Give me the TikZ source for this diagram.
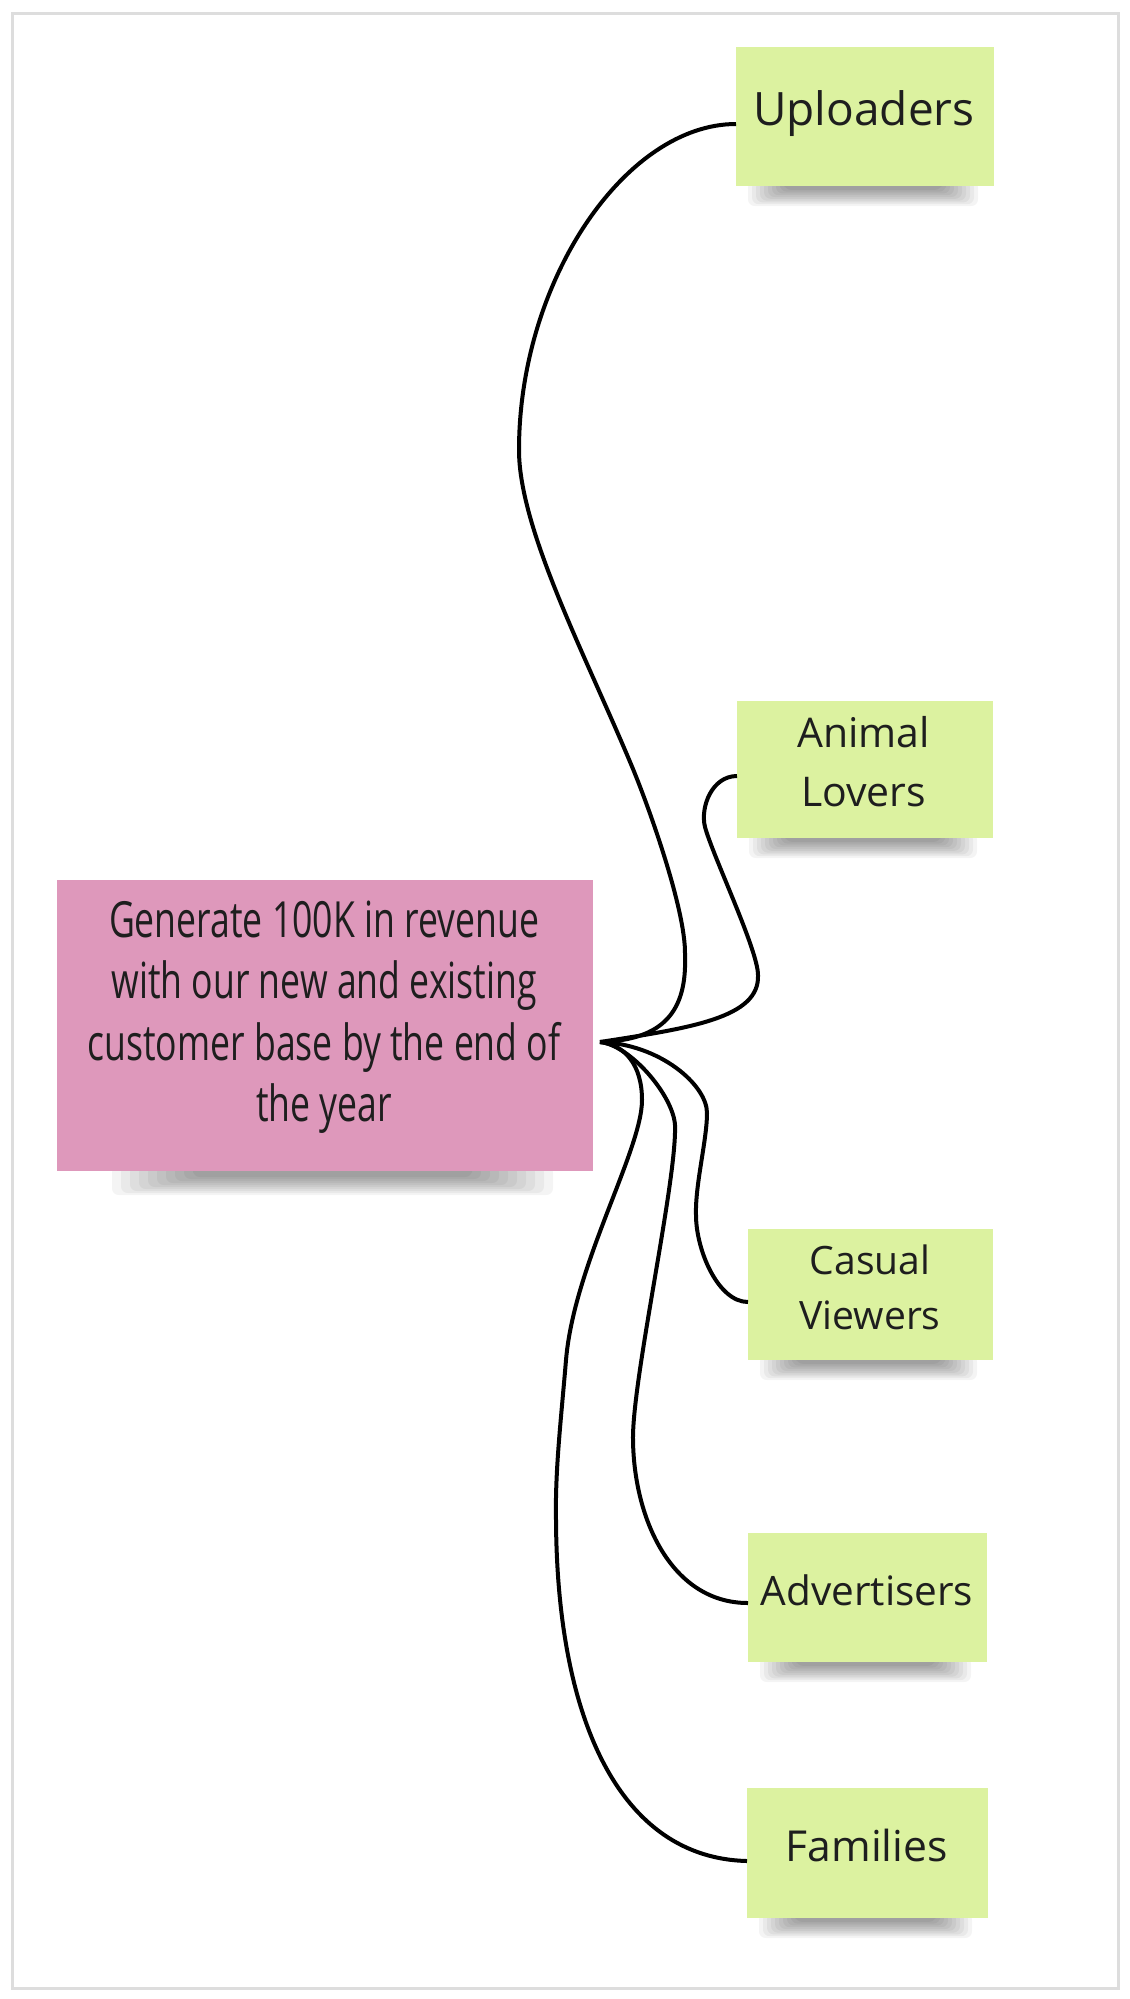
\documentclass[tikz,border=0pt]{standalone}
\usepackage{fontspec}
\usepackage{graphicx}
\usetikzlibrary{calc}
\newfontfamily\notefont{Open Sans}
\definecolor{notegreen}{HTML}{DCF2A0}
\definecolor{notepink}{HTML}{DE98BB}
\definecolor{framegray}{HTML}{DDDDDD}
\definecolor{inkc}{HTML}{1E1E1E}
\pgfdeclarelayer{background}
\pgfsetlayers{background,main}
\tikzset{
  note/.style={rectangle, fill=notegreen, inner sep=0pt, outer sep=0pt},
  goalnote/.style={rectangle, fill=notepink, inner sep=0pt, outer sep=0pt},
  notetext/.style={inner sep=0pt, outer sep=0pt, text=inkc, align=center},
  link/.style={line width=3pt, black, line join=round},
  shade/.style={black, opacity=0.042, rounded corners=5pt},
}
\begin{document}
\begin{tikzpicture}[x=0.75pt,y=-0.75pt]
\useasboundingbox (0,0) rectangle (1129,1999);
\begin{pgfonlayer}{background}
\fill[white] (0,0) rectangle (1129,1999);
\draw[framegray, line width=2.25pt] (12,13) rectangle (1118,1988);
\end{pgfonlayer}

% notes
\node[goalnote, minimum width=402pt, minimum height=218.25pt] (goal) at (325,1025.5) {};
\node[note, minimum width=193.5pt, minimum height=104.25pt] (up) at (865,116.5) {};
\node[note, minimum width=192pt, minimum height=102.75pt] (an) at (865,769.5) {};
\node[note, minimum width=183.75pt, minimum height=98.25pt] (ca) at (870.5,1294.5) {};
\node[note, minimum width=179.25pt, minimum height=96.75pt] (ad) at (867.5,1597.5) {};
\node[note, minimum width=180.75pt, minimum height=97.5pt] (fa) at (867.5,1853) {};

% texts
\node[notetext, font=\notefont\fontsize{26.7}{32.9}\selectfont] (goalt) at (324,1017)
  {\scalebox{1}[1.4]{\begin{tabular}{@{}c@{}}Generate 100K in revenue\\ with our new and existing\\ customer base by the end of\\ the year\end{tabular}}};
\node[notetext, anchor=base, font=\notefont\fontsize{34.5}{40}\selectfont] (upt) at (864,125) {Uploaders};
\node[notetext, font=\notefont\fontsize{30.7}{44.25}\selectfont] (ant) at (863.5,762) {Animal\\Lovers};
\node[notetext, font=\notefont\fontsize{29.3}{41.25}\selectfont] (cat) at (870,1287.7) {Casual\\Viewers};
\node[notetext, anchor=base, font=\notefont\fontsize{30.4}{40}\selectfont] (adt) at (867,1605) {Advertisers};
\node[notetext, anchor=base, font=\notefont\fontsize{32}{40}\selectfont] (fat) at (866.7,1861.7) {Families};

% shadows
\begin{pgfonlayer}{background}
\foreach \n in {up,an,ca,ad,fa} {
  \foreach \k in {0,...,9} {
    \fill[shade] ($(\n.south west)+(12+4*\k,-5)$) rectangle ($(\n.south east)+(-16-4*\k,20-1.8*\k)$);
  }
}
\foreach \k in {0,...,9} {
  \fill[shade] ($(goal.south west)+(55+9*\k,-5)$) rectangle ($(goal.south east)+(-40-9*\k,24-2*\k)$);
}
\end{pgfonlayer}

% connectors
\coordinate (o) at ($(goal.east)+(7,16.5)$);
\draw[link] (o) .. controls (665,1040) and (687,1010) .. (685,955)
  .. controls (686,910) and (648.3,806) .. (633,769)
  .. controls (587,658.1) and (519,530) .. (519,450)
  .. controls (519,280) and (626,124) .. ($(up.west)+(0,7.5)$);
\draw[link] (o) .. controls (690,1028) and (760,1018) .. (758,975)
  .. controls (758,950) and (712.8,856) .. (705,827)
  .. controls (700,807) and (712,776) .. ($(an.west)+(0,6.5)$);
\draw[link] (o) .. controls (660,1044) and (707,1085) .. (707,1113)
  .. controls (707,1140) and (695,1185) .. (696,1215)
  .. controls (696,1250) and (718,1302) .. ($(ca.west)+(0,7.5)$);
\draw[link] (o) .. controls (630,1045) and (673,1095) .. (675,1125)
  .. controls (677,1180) and (632,1380) .. (633,1440)
  .. controls (634,1520) and (672,1603) .. ($(ad.west)+(0,5.5)$);
\draw[link] (o) .. controls (625,1045) and (642,1065) .. (642,1100)
  .. controls (642,1150) and (574,1265) .. (566,1360)
  .. controls (561,1420) and (555,1470) .. (556,1520)
  .. controls (557,1720) and (620,1858) .. ($(fa.west)+(0,8)$);
\end{tikzpicture}
\end{document}
